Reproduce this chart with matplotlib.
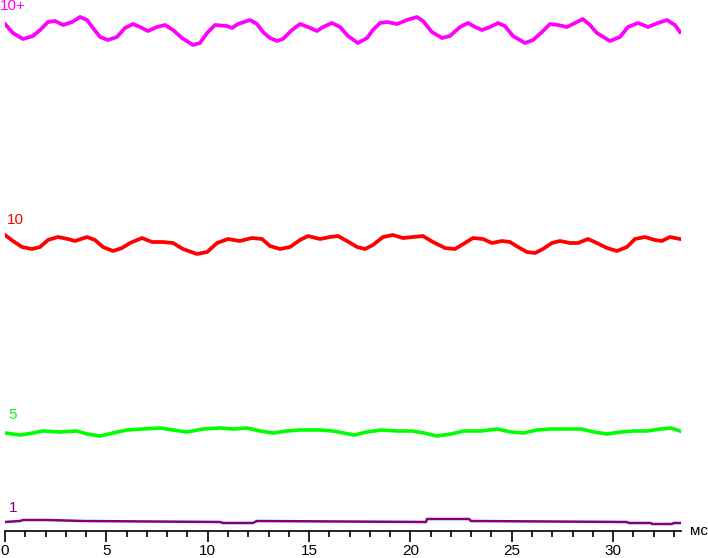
import matplotlib
matplotlib.use("Agg")
import matplotlib.pyplot as plt
from matplotlib.ticker import MultipleLocator

plt.rcParams['font.family'] = ['Liberation Sans', 'DejaVu Sans']

# brightness traces, time in ms, level in arbitrary units
t_10p = [0.00, 0.39, 0.89, 1.38, 1.73, 2.12, 2.47, 2.86, 3.31, 3.70, 4.05, 4.34, 4.69, 5.08,
         5.52, 5.92, 6.31, 6.66, 7.05, 7.50, 7.89, 8.29, 8.73, 9.27, 9.62, 9.97, 10.36, 10.95,
         11.20, 11.49, 12.09, 12.43, 12.73, 13.07, 13.42, 13.71, 14.16, 14.55, 14.95, 15.39,
         15.69, 16.13, 16.53, 16.92, 17.41, 17.86, 18.15, 18.50, 18.85, 19.34, 19.83, 20.32,
         20.62, 21.06, 21.56, 21.95, 22.45, 22.84, 23.19, 23.53, 23.93, 24.32, 24.66, 25.06,
         25.65, 26.05, 26.49, 26.89, 27.28, 27.72, 28.12, 28.51, 28.86, 29.20, 29.84, 30.34,
         30.73, 31.23, 31.72, 32.21, 32.66, 33.05, 33.30]
v_10p = [507, 498, 492, 495, 501, 509, 510, 506, 509, 514, 511, 503, 494, 491,
         494, 503, 507, 504, 500, 504, 506, 501, 493, 486, 488, 498, 506, 505,
         503, 507, 511, 507, 499, 493, 490, 492, 501, 507, 504, 500,
         504, 508, 504, 495, 488, 493, 501, 508, 509, 507, 511, 514,
         510, 499, 493, 495, 504, 508, 504, 501, 504, 508, 505, 495,
         488, 491, 499, 507, 506, 504, 508, 512, 506, 498, 490, 494,
         504, 508, 504, 508, 511, 506, 499]

t_10 = [0.00, 0.39, 0.84, 1.33, 1.73, 2.12, 2.61, 3.11, 3.45, 4.05, 4.44, 4.83, 5.33, 5.77,
        6.17, 6.76, 7.25, 7.79, 8.29, 8.78, 9.47, 9.97, 10.46, 11.00, 11.59, 12.18, 12.68,
        13.07, 13.57, 14.06, 14.55, 14.95, 15.54, 16.03, 16.43, 16.87, 17.37, 17.76, 18.15,
        18.65, 19.14, 19.63, 20.13, 20.62, 21.11, 21.71, 22.20, 22.69, 23.09, 23.58, 24.02,
        24.52, 24.91, 25.31, 25.75, 26.15, 26.54, 26.98, 27.38, 27.87, 28.27, 28.76, 29.20,
        29.70, 30.19, 30.68, 31.08, 31.57, 32.07, 32.41, 32.80, 33.30]
v_10 = [296, 290, 284, 282, 284, 291, 294, 292, 290, 294, 291, 284, 280, 283,
        288, 293, 289, 289, 288, 282, 277, 279, 288, 292, 290, 293, 292,
        285, 282, 284, 291, 295, 292, 294, 295, 290, 284, 282, 286,
        294, 296, 293, 294, 295, 289, 283, 282, 288, 293, 292, 288,
        290, 289, 284, 279, 278, 282, 288, 290, 288, 288, 292, 288,
        283, 280, 284, 292, 294, 291, 290, 294, 292]

t_5 = [0.00, 0.74, 1.38, 1.87, 2.71, 3.55, 4.05, 4.69, 5.33, 6.02, 6.81, 7.65, 8.29, 8.98,
       9.77, 10.61, 11.25, 11.94, 12.58, 13.22, 13.91, 14.55, 15.54, 16.18, 17.22, 17.86,
       18.55, 19.34, 20.08, 20.67, 21.31, 22.00, 22.64, 23.48, 24.27, 24.96, 25.60, 26.24,
       26.94, 27.72, 28.42, 29.06, 29.70, 30.39, 31.03, 31.67, 32.36, 32.85, 33.30]
v_5 = [98, 96, 98, 100, 99, 100, 97, 95, 98, 101, 102, 103, 101, 99,
       102, 103, 102, 103, 100, 98, 100, 101, 101, 100, 96, 99,
       101, 100, 100, 98, 95, 97, 100, 100, 102, 99, 98, 101,
       102, 102, 102, 99, 97, 99, 100, 100, 102, 103, 100]

t_1 = [0.00, 0.74, 0.89, 2.07, 3.85, 10.61, 10.75, 12.23, 12.43, 20.77, 20.82, 22.89,
       22.99, 30.68, 30.78, 31.87, 31.92, 32.90, 33.00, 33.30]
v_1 = [9, 10, 11, 11, 10, 9, 8, 8, 10, 9, 12, 12, 10, 9, 8, 8, 7, 7, 8, 8]

fig = plt.figure(figsize=(7.08, 5.58), dpi=100)
ax = fig.add_axes([5 / 708, 27 / 558, 676 / 708, 531 / 558])

ax.plot(t_10p, v_10p, color='#ff00ff', lw=2.7, solid_joinstyle='round')
ax.plot(t_10, v_10, color='#ff0000', lw=2.7, solid_joinstyle='round')
ax.plot(t_5, v_5, color='#00ff00', lw=2.6, solid_joinstyle='round')
ax.plot(t_1, v_1, color='#800080', lw=1.8)

ax.text(-0.25, 532, '10+', color='#ff00ff', fontsize=11, va='top', clip_on=False)
ax.text(0.1, 318, '10', color='#ff0000', fontsize=11, va='top', clip_on=False)
ax.text(0.15, 123, '5', color='#00ff00', fontsize=11, va='top', clip_on=False)
ax.text(0.2, 30, '1', color='#800080', fontsize=11, va='top', clip_on=False)

ax.set_xlim(0, 33.35)
ax.set_ylim(0, 531)
for s in ['top', 'right', 'left']:
    ax.spines[s].set_visible(False)
ax.spines['bottom'].set_linewidth(1.2)
ax.set_yticks([])
ax.xaxis.set_major_locator(MultipleLocator(5))
ax.xaxis.set_minor_locator(MultipleLocator(1))
ax.tick_params(axis='x', which='major', length=8.2, width=1.2, pad=1, labelsize=11)
ax.tick_params(axis='x', which='minor', length=4.3, width=1.2)
ax.text(1.013, 0, 'мс', transform=ax.transAxes, fontsize=11, va='center', ha='left',
        clip_on=False)

fig.savefig('out.png', dpi=100)
